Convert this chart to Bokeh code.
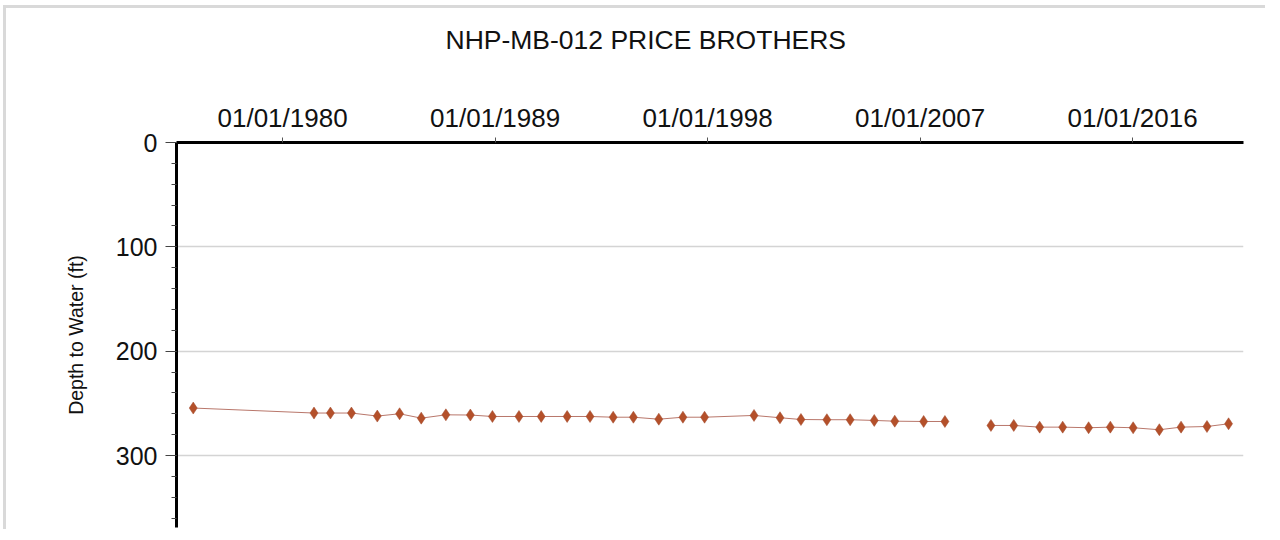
import pandas as pd
from bokeh.plotting import figure
from bokeh.models import Range1d, FixedTicker, DatetimeTickFormatter, ColumnDataSource
from bokeh.embed import file_html
from bokeh.resources import INLINE

# ---- data ----
dates = [
    "1976-03-20", "1981-05-01", "1982-01-10", "1982-12-01", "1984-01-05",
    "1984-12-15", "1985-11-15", "1986-12-01", "1987-12-15", "1988-11-20",
    "1990-01-05", "1990-12-15", "1992-01-20", "1993-01-08", "1994-01-01",
    "1994-11-10", "1995-12-08", "1996-12-15", "1997-11-15", "1999-12-20",
    "2001-01-25", "2001-12-15", "2003-01-20", "2004-01-15", "2005-01-22",
    "2005-12-05", "2007-02-25", "2008-01-20",
    "2010-01-01", "2010-12-20", "2012-01-25", "2013-01-15", "2014-02-20",
    "2015-01-22", "2016-01-10", "2017-02-18", "2018-01-20", "2019-02-25",
    "2020-01-25",
]
depth = [
    254.5, 259.3, 259.3, 259.3, 262.2,
    260.0, 264.2, 261.0, 261.2, 262.6,
    262.6, 262.6, 262.6, 262.6, 263.3,
    263.3, 265.2, 263.3, 263.3, 261.6,
    263.8, 265.5, 265.7, 265.7, 266.4,
    267.1, 267.4, 267.4,
    271.2, 271.2, 272.8, 272.8, 273.4,
    272.8, 273.4, 275.3, 272.8, 272.2,
    269.6,
]
gap_after = "2009-01-01"   # record is broken between 2008 and 2010
tick_dates = ["1980-01-01", "1989-01-01", "1998-01-01", "2007-01-01", "2016-01-01"]
y_major = [0, 100, 200, 300]
y_minor = list(range(0, 370, 20))
x_start, x_end = "1975-07-05", "2020-09-12"
y_bottom, y_top = 369, 0

title_text = "NHP-MB-012 PRICE BROTHERS"
y_label = "Depth to Water (ft)"

# ---- build ----
dt = pd.to_datetime(dates)
df = pd.DataFrame({"date": dt, "depth": depth})
gap = pd.Timestamp(gap_after)
seg1 = ColumnDataSource(df[df.date < gap])
seg2 = ColumnDataSource(df[df.date >= gap])
allsrc = ColumnDataSource(df)

FONT = "Liberation Sans"

p = figure(
    width=1262, height=524,
    x_axis_type="datetime", x_axis_location="above",
    x_range=Range1d(pd.Timestamp(x_start), pd.Timestamp(x_end)),
    y_range=Range1d(y_bottom, y_top),
    output_backend="svg", toolbar_location=None,
    min_border_left=170, min_border_right=25,
    min_border_top=133, min_border_bottom=5,
    title=title_text,
    styles={"margin-left": "3px", "margin-top": "5px",
            "border-left": "3px solid #d9d9d9", "border-top": "3px solid #d9d9d9",
            "border-right": "none", "border-bottom": "none",
            "outline": "none", "box-shadow": "none"},
)
p.outline_line_color = None
p.background_fill_color = "white"
p.border_fill_color = "white"

p.title.text_font = FONT
p.title.text_font_size = "26.5px"
p.title.text_font_style = "normal"
p.title.text_color = "#111111"
p.title.align = "left"
p.title.offset = 269
p.title.standoff = 28

# x axis (top)
xa = p.xaxis[0]
xa.ticker = FixedTicker(ticks=[pd.Timestamp(d).value / 1e6 for d in tick_dates])
xa.formatter = DatetimeTickFormatter(days="%m/%d/%Y", months="%m/%d/%Y", years="%m/%d/%Y")
xa.major_label_text_font = FONT
xa.major_label_text_font_size = "26px"
xa.major_label_text_color = "#111111"
xa.axis_line_width = 3
xa.axis_line_color = "black"
xa.major_tick_out = 5
xa.major_tick_in = 0
xa.major_tick_line_color = "#555555"
xa.minor_tick_line_color = None
xa.major_label_standoff = 5
# invisible spacer label so that the title sits near the top of the page
xa.axis_label = "\u00a0"
xa.axis_label_text_font = FONT
xa.axis_label_text_font_size = "22px"
xa.axis_label_standoff = 3

# y axis
ya = p.yaxis[0]
ya.ticker = FixedTicker(ticks=y_major, minor_ticks=y_minor)
ya.major_label_text_font = FONT
ya.major_label_text_font_size = "25px"
ya.major_label_text_color = "#111111"
ya.axis_line_width = 3
ya.axis_line_color = "black"
ya.major_tick_out = 11
ya.major_tick_in = 0
ya.minor_tick_out = 5
ya.minor_tick_in = 0
ya.major_tick_line_color = "#444444"
ya.minor_tick_line_color = "#444444"
ya.major_label_standoff = 8
ya.axis_label = y_label
ya.axis_label_text_font = FONT
ya.axis_label_text_font_size = "19.5px"
ya.axis_label_text_font_style = "normal"
ya.axis_label_text_color = "#111111"
ya.axis_label_standoff = 26

p.xgrid.grid_line_color = None
p.ygrid.ticker = FixedTicker(ticks=y_major[1:])
p.ygrid.grid_line_color = "#d4d4d4"
p.ygrid.grid_line_width = 1.5

for src in (seg1, seg2):
    p.line("date", "depth", source=src, line_color="#b9776b", line_width=1)
p.scatter("date", "depth", source=allsrc, marker="diamond", size=12,
          fill_color="#b4502a", line_color="#a0482a", line_width=0.5)

open("out.html", "w").write(file_html(p, INLINE))
